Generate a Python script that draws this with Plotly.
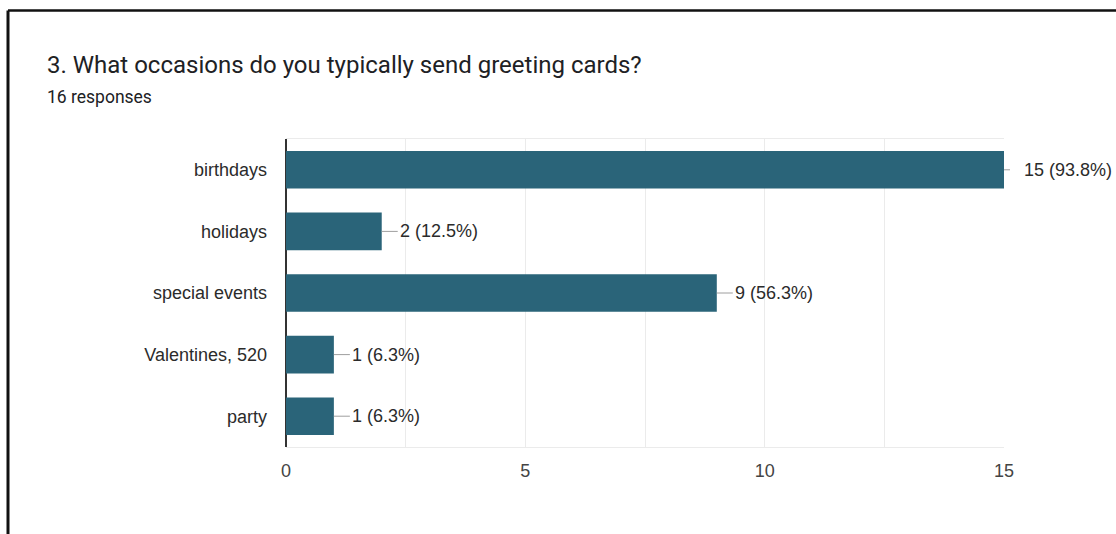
from decimal import Decimal, ROUND_HALF_UP
import plotly.graph_objects as go

# Survey question 3: occasions for sending greeting cards
question = "3. What occasions do you typically send greeting cards?"
total_responses = 16
occasions = ["birthdays", "holidays", "special events", "Valentines, 520", "party"]
counts = [15, 2, 9, 1, 1]
x_ticks = [0, 5, 10, 15]

BAR_COLOR = "#2a6479"
TEXT_COLOR = "#2b2b2b"
GRID_COLOR = "#ebebeb"
LABEL_FONT = "Arial, 'Liberation Sans', sans-serif"
HEAD_FONT = "Roboto, 'Noto Sans', sans-serif"

# Figure geometry (pixels) used to place header text and the outer frame
W, H = 1116, 534
M_L, M_R, M_T, M_B = 286, 112, 139, 87
PW, PH = W - M_L - M_R, H - M_T - M_B


def px_x(px):
    return (px - M_L) / PW


def px_y(py):
    return (H - M_B - py) / PH


def pct(v):
    q = Decimal(v) * 100 / Decimal(total_responses)
    return q.quantize(Decimal("0.1"), rounding=ROUND_HALF_UP)


fig = go.Figure(
    go.Bar(
        x=counts,
        y=occasions,
        orientation="h",
        width=0.61,
        marker=dict(color=BAR_COLOR, line=dict(width=0)),
        hoverinfo="skip",
    )
)

# value labels with short grey leader lines
for occ, v in zip(occasions, counts):
    is_max = v == max(counts)
    fig.add_annotation(
        x=v, y=occ, xref="x", yref="y",
        text=f"{v} ({pct(v)}%)",
        showarrow=True, arrowhead=0, arrowwidth=1, arrowcolor="#9e9e9e",
        ax=18 if is_max else 16, ay=0,
        xanchor="left", yanchor="middle",
        startstandoff=12 if is_max else 0,
        font=dict(family=LABEL_FONT, size=18, color=TEXT_COLOR),
    )

# header text
fig.add_annotation(
    x=px_x(45), y=px_y(65), xref="paper", yref="paper",
    text=question, showarrow=False, xanchor="left", yanchor="middle",
    font=dict(family=HEAD_FONT, size=24, color="#202124"),
)
fig.add_annotation(
    x=px_x(45), y=px_y(97), xref="paper", yref="paper",
    text=f"{total_responses} responses", showarrow=False,
    xanchor="left", yanchor="middle",
    font=dict(family=HEAD_FONT, size=17.5, color="#202124"),
)

# outer frame: top and left edges
fig.add_shape(type="line", xref="paper", yref="paper",
              x0=px_x(8), x1=px_x(W + 5), y0=px_y(10.5), y1=px_y(10.5),
              line=dict(color="#111111", width=2.5))
fig.add_shape(type="line", xref="paper", yref="paper",
              x0=px_x(8), x1=px_x(8), y0=px_y(10.5), y1=px_y(H + 5),
              line=dict(color="#111111", width=3))

fig.update_layout(
    width=W, height=H,
    margin=dict(l=M_L, r=M_R, t=M_T, b=M_B, pad=0),
    paper_bgcolor="white", plot_bgcolor="white",
    showlegend=False,
    bargap=0.39,
    xaxis=dict(
        range=[0, 15], tickvals=x_ticks, ticktext=[str(t) for t in x_ticks],
        showgrid=True, gridcolor=GRID_COLOR, gridwidth=1,
        minor=dict(dtick=2.5, tick0=0, showgrid=True, gridcolor=GRID_COLOR, gridwidth=1),
        zeroline=True, zerolinecolor="#333333", zerolinewidth=2,
        showline=True, linecolor=GRID_COLOR, linewidth=1, mirror=True,
        ticks="", ticklabelstandoff=7,
        tickfont=dict(family=LABEL_FONT, size=18, color="#444444"),
        fixedrange=True,
    ),
    yaxis=dict(
        categoryorder="array", categoryarray=occasions, autorange="reversed",
        showgrid=False, zeroline=False, showline=False,
        ticks="", ticklabelstandoff=18,
        tickfont=dict(family=LABEL_FONT, size=18, color=TEXT_COLOR),
        fixedrange=True,
    ),
)

fig.write_html("out.html", config={"displayModeBar": False})
